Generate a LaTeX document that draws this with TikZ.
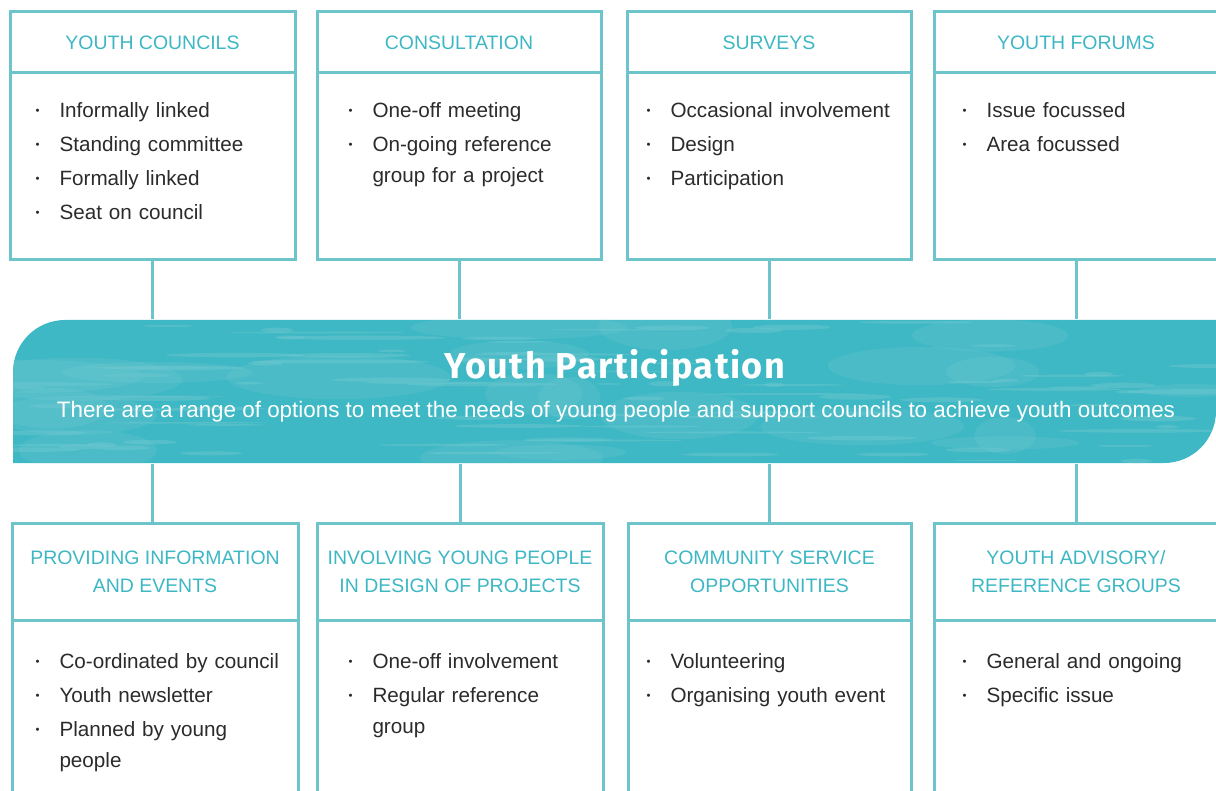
\documentclass[tikz,border=0pt]{standalone}
\usepackage{fontspec}
\setmainfont{Liberation Sans}
\newfontfamily\titlefont[LetterSpace=4]{Fira Sans}

\definecolor{boxline}{RGB}{110,196,203}
\definecolor{headtxt}{RGB}{61,183,195}
\definecolor{bannerfill}{RGB}{61,184,196}
\definecolor{streak}{RGB}{108,198,207}
\definecolor{bodytxt}{RGB}{43,43,43}

\newcommand{\bul}[1]{\par\noindent\makebox[18pt][l]{\raisebox{0.25ex}{\scalebox{0.55}{\textbullet}}}\parbox[t]{180pt}{\raggedright #1}}

\tikzset{every picture/.style={line width=0.75pt}}
\tikzset{
	boxhead/.style={draw=boxline, line width=2.25pt, align=center, text=headtxt, font=\fontsize{14.6}{21}\selectfont},
	boxbody/.style={draw=boxline, line width=2.25pt},
	itemlist/.style={anchor=north west, inner sep=0pt, text width=200pt, align=left, text=bodytxt, font=\fontsize{15.5}{23.25}\selectfont, execute at begin node={\setlength{\parskip}{2.25pt}}},
	link/.style={draw=boxline, line width=2.25pt}
}

\begin{document}
\begin{tikzpicture}[x=0.75pt,y=0.75pt,yscale=-1,xscale=1]
	\useasboundingbox (0,0) rectangle (1216,791);
	\clip (0,0) rectangle (1216,791);

	% Top row
	\node[boxhead, minimum width=213.75pt, minimum height=45.75pt] (yc-head) at (152.5,42.5) {YOUTH COUNCILS};
	\node[boxbody, minimum width=213.75pt, minimum height=140.25pt] (yc-body) at (152.5,166.5) {};
	\node[itemlist] (yc-list) at (35,83) {\bul{Informally linked}\bul{Standing committee}\bul{Formally linked}\bul{Seat on council}};

	\node[boxhead, minimum width=213pt, minimum height=45.75pt] (con-head) at (459,42.5) {CONSULTATION};
	\node[boxbody, minimum width=213pt, minimum height=140.25pt] (con-body) at (459,166.5) {};
	\node[itemlist] (con-list) at (348,83) {\bul{One-off meeting}\bul{On-going reference\\group for a project}};

	\node[boxhead, minimum width=213pt, minimum height=45.75pt] (sur-head) at (769,42.5) {SURVEYS};
	\node[boxbody, minimum width=213pt, minimum height=140.25pt] (sur-body) at (769,166.5) {};
	\node[itemlist] (sur-list) at (646,83) {\bul{Occasional involvement}\bul{Design}\bul{Participation}};

	\node[boxhead, minimum width=213pt, minimum height=45.75pt] (yf-head) at (1076,42.5) {YOUTH FORUMS};
	\node[boxbody, minimum width=213pt, minimum height=140.25pt] (yf-body) at (1076,166.5) {};
	\node[itemlist] (yf-list) at (962,83) {\bul{Issue focussed}\bul{Area focussed}};

	% Banner
	\node[minimum width=902.25pt, minimum height=107.25pt, inner sep=0pt] (banner) at (614.5,391.5) {};
	\fill[bannerfill] (13,463) -- (13,372) arc[start angle=180, end angle=270, radius=52] -- (1216,320) -- (1216,411) arc[start angle=0, end angle=90, radius=52] -- cycle;
	\begin{scope}
		\clip (13,463) -- (13,372) arc[start angle=180, end angle=270, radius=52] -- (1216,320) -- (1216,411) arc[start angle=0, end angle=90, radius=52] -- cycle;
		\pgfmathsetseed{23}
		% soft patches
		\foreach \i in {1,...,22} {
			\pgfmathsetmacro\xa{13+rnd*1200}
			\pgfmathsetmacro\ya{325+rnd*135}
			\pgfmathsetmacro\lx{30+rnd*90}
			\pgfmathsetmacro\ly{6+rnd*18}
			\fill[streak, opacity=0.3] (\xa,\ya) ellipse [x radius=\lx, y radius=\ly];
		}
		% thin scratches
		\foreach \i in {1,...,90} {
			\pgfmathsetmacro\xa{13+rnd*1200}
			\pgfmathsetmacro\ya{322+rnd*140}
			\pgfmathsetmacro\lx{10+rnd*80}
			\pgfmathsetmacro\ly{0.6+rnd*2.2}
			\fill[streak, opacity=0.5] (\xa,\ya) ellipse [x radius=\lx, y radius=\ly];
		}
	\end{scope}
	\node[text=white, font=\titlefont\bfseries\fontsize{27}{32}\selectfont] (title) at (615,368) {Youth Participation};
	\node[text=white, font=\fontsize{16.8}{20}\selectfont] (subtitle) at (616,412) {There are a range of options to meet the needs of young people and support councils to achieve youth outcomes};

	% Bottom row
	\node[boxhead, minimum width=214.5pt, minimum height=72.75pt] (pie-head) at (155,571.5) {PROVIDING INFORMATION\\AND EVENTS};
	\node[boxbody, minimum width=214.5pt, minimum height=150pt] (pie-body) at (155,720) {};
	\node[itemlist] (pie-list) at (35,634) {\bul{Co-ordinated by council}\bul{Youth newsletter}\bul{Planned by young\\people}};

	\node[boxhead, minimum width=214.5pt, minimum height=72.75pt] (iyp-head) at (460,571.5) {INVOLVING YOUNG PEOPLE\\IN DESIGN OF PROJECTS};
	\node[boxbody, minimum width=214.5pt, minimum height=150pt] (iyp-body) at (460,720) {};
	\node[itemlist] (iyp-list) at (348,634) {\bul{One-off involvement}\bul{Regular reference\\group}};

	\node[boxhead, minimum width=212.25pt, minimum height=72.75pt] (cso-head) at (769.5,571.5) {COMMUNITY SERVICE\\OPPORTUNITIES};
	\node[boxbody, minimum width=212.25pt, minimum height=150pt] (cso-body) at (769.5,720) {};
	\node[itemlist] (cso-list) at (646,634) {\bul{Volunteering}\bul{Organising youth event}};

	\node[boxhead, minimum width=213pt, minimum height=72.75pt] (yar-head) at (1076,571.5) {YOUTH ADVISORY/\\REFERENCE GROUPS};
	\node[boxbody, minimum width=213pt, minimum height=150pt] (yar-body) at (1076,720) {};
	\node[itemlist] (yar-list) at (962,634) {\bul{General and ongoing}\bul{Specific issue}};

	% Links
	\draw[link] (yc-body.south) -- (yc-body.south |- banner.north);
	\draw[link] (con-body.south) -- (con-body.south |- banner.north);
	\draw[link] (sur-body.south) -- (sur-body.south |- banner.north);
	\draw[link] (yf-body.south) -- (yf-body.south |- banner.north);
	\draw[link] (banner.south -| yc-body.south) -- (yc-body.south |- pie-head.north);
	\draw[link] (banner.south -| iyp-head.north) -- (iyp-head.north);
	\draw[link] (banner.south -| cso-head.north) -- (cso-head.north);
	\draw[link] (banner.south -| yar-head.north) -- (yar-head.north);

\end{tikzpicture}
\end{document}
